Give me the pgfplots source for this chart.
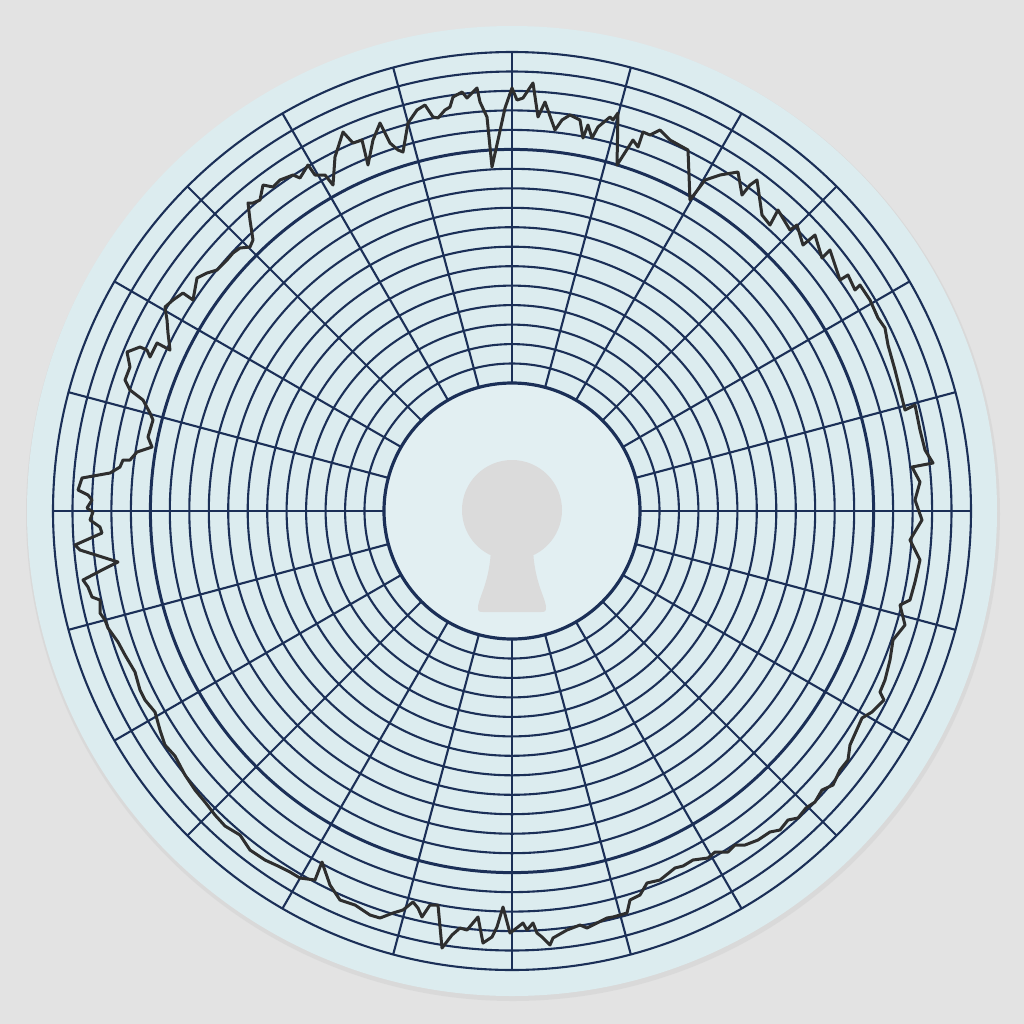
\documentclass[border=0pt]{standalone}
\usepackage{pgfplots}
\pgfplotsset{compat=1.18}
\definecolor{bg}{HTML}{E3E3E3}
\definecolor{paper}{HTML}{DCECEF}
\definecolor{hub}{HTML}{E2EFF2}
\definecolor{gridc}{HTML}{1B2F57}
\definecolor{ink}{HTML}{2E2E2E}
\definecolor{hole}{HTML}{DBDBDB}
\begin{document}
\begin{tikzpicture}
\begin{axis}[
  width=512pt, height=512pt, scale only axis,
  xmin=0, xmax=1024, ymin=0, ymax=1024, y dir=reverse,
  hide axis, clip=false,
]
\fill[bg] (axis cs:0,0) rectangle (axis cs:1024,1024);
\fill[black!25, opacity=0.25] (axis cs:513,514) circle[radius=487];
\fill[paper] (axis cs:512,511) circle[radius=485];
% radial lines (diameters, hub covers the middle)
\addplot[gridc, line width=1.05pt] coordinates {(53,511) (971,511)};
\addplot[gridc, line width=1.05pt] coordinates {(955.4,392.2) (68.6,629.8)};
\addplot[gridc, line width=1.05pt] coordinates {(909.5,281.5) (114.5,740.5)};
\addplot[gridc, line width=1.05pt] coordinates {(836.6,186.4) (187.4,835.6)};
\addplot[gridc, line width=1.05pt] coordinates {(741.5,113.5) (282.5,908.5)};
\addplot[gridc, line width=1.05pt] coordinates {(630.8,67.6) (393.2,954.4)};
\addplot[gridc, line width=1.05pt] coordinates {(512,52) (512,970)};
\addplot[gridc, line width=1.05pt] coordinates {(393.2,67.6) (630.8,954.4)};
\addplot[gridc, line width=1.05pt] coordinates {(282.5,113.5) (741.5,908.5)};
\addplot[gridc, line width=1.05pt] coordinates {(187.4,186.4) (836.6,835.6)};
\addplot[gridc, line width=1.05pt] coordinates {(114.5,281.5) (909.5,740.5)};
\addplot[gridc, line width=1.05pt] coordinates {(68.6,392.2) (955.4,629.8)};
\fill[hub] (axis cs:512,511) circle[radius=127];
\pgfplotsinvokeforeach{147.5,166.9,186.4,205.9,225.4,244.8,264.3,283.8,303.2,322.7,342.2,381.1,400.6,420.1,439.5,459}{
  \draw[gridc, line width=1.05pt] (axis cs:512,511) circle[radius=#1];
}
\draw[gridc, line width=1.5pt] (axis cs:512,511) circle[radius=361.6];
\draw[gridc, line width=1.6pt] (axis cs:512,511) circle[radius=128];
% keyhole
\fill[hole] (axis cs:512,510) circle[radius=50];
\fill[hole] (axis cs:491,548) .. controls (axis cs:490,580) and (axis cs:480,595) .. (axis cs:478,606)
   .. controls (axis cs:478,612) .. (axis cs:485,612) -- (axis cs:539,612)
   .. controls (axis cs:546,612) .. (axis cs:546,606)
   .. controls (axis cs:544,595) and (axis cs:534,580) .. (axis cs:533,548) -- cycle;
% recorded trace (image pixel positions)
\addplot[ink, line width=1.5pt, line join=round, line cap=round] coordinates {
(150,413) (143,400) (130,390) (125,380) (130,367) (127,352) (140,347) (147,350) (150,357) (157,343)
(170,350) (168,333) (167,320) (165,307) (173,300) (183,293) (193,300) (197,278) (207,273) (217,270)
(227,260) (233,253) (240,248) (250,247) (253,240) (250,220) (248,203) (253,203) (260,200) (263,185)
(273,187) (280,180) (293,175) (300,178) (308,165) (315,175) (325,175) (333,185) (335,157) (343,132)
(353,143) (362,140) (368,165) (373,140) (380,123) (390,143) (398,150) (403,152) (408,123) (417,110)
(425,105) (433,117) (438,118) (445,110) (450,107) (453,97) (462,92) (467,98) (477,88) (480,102)
(487,117) (492,167) (498,140) (505,108) (512,88) (517,100) (523,98) (533,83) (538,117) (545,102)
(555,130) (562,120) (570,115) (580,120) (583,138) (588,125) (592,138) (598,127) (610,117) (613,120)
(618,113) (617,165) (633,140) (638,147) (643,132) (650,135) (660,130) (670,140) (688,150) (690,200)
(705,180) (720,175) (738,172) (742,195) (750,185) (757,180) (762,215) (770,225) (778,210) (790,230)
(797,225) (803,245) (815,235) (822,258) (830,250) (840,280) (848,275) (855,290) (860,285) (870,300)
(878,318) (885,328) (888,345) (895,370) (900,390) (905,410) (915,405) (920,430) (925,450) (933,463)
(912,467) (920,482) (915,500) (922,520) (910,540) (920,560) (915,582) (910,600) (900,605) (905,625)
(893,640) (890,660) (885,680) (880,692) (884,700) (872,712) (862,718) (850,745) (848,760) (840,770)
(833,785) (822,790) (815,802) (806,808) (798,818) (788,820) (780,830) (770,832) (758,840) (745,845)
(735,845) (728,852) (715,852) (708,858) (693,860) (683,866) (675,868) (660,880) (647,883) (640,895)
(630,900) (627,913) (613,917) (607,918) (597,923) (587,928) (580,925) (567,930) (553,938) (550,945)
(542,937) (537,933) (533,923) (527,930) (523,923) (518,927) (510,933) (503,907) (497,927) (492,937)
(483,943) (478,917) (467,930) (460,928) (452,935) (442,948) (438,905) (430,905) (422,917) (418,908)
(413,902) (403,910) (393,913) (380,918) (370,915) (355,905) (340,900) (330,885) (322,862) (315,880)
(300,878) (290,872) (278,866) (265,860) (250,850) (240,835) (225,826) (215,815) (205,802) (195,790)
(185,775) (175,756) (165,745) (160,730) (155,712) (145,700) (140,690) (135,672) (125,655) (118,642)
(108,628) (105,620) (100,613) (100,600) (92,597) (88,587) (83,580) (102,570) (118,562) (80,550)
(75,545) (102,533) (100,527) (90,520) (93,512) (87,508) (92,500) (88,495) (78,490) (82,478)
(110,473) (120,467) (123,460) (130,460) (137,452) (152,447) (148,437) (153,420) (150,413)
};
\end{axis}
\end{tikzpicture}
\end{document}
